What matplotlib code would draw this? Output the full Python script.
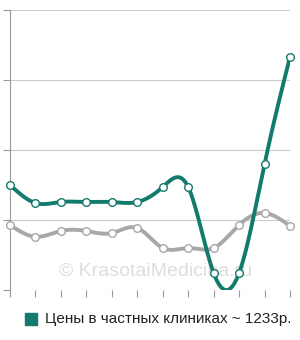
import numpy as np
import matplotlib
matplotlib.use('Agg')
import matplotlib.pyplot as plt

plt.rcParams['font.family'] = ['Liberation Sans', 'DejaVu Sans']

# prices by point
private = [1500, 1243, 1257, 1257, 1257, 1257, 1471, 1471, 243, 243, 1800, 3329]
public = [929, 761, 843, 843, 814, 886, 600, 600, 600, 929, 1100, 914]
legend_label = 'Цены в частных клиниках ~ 1233р.'
watermark = '© KrasotaiMedicina.ru'

teal = '#137a6e'
grey = '#a8a8a8'


def smooth(y, n=30):
    # natural cubic spline through the points, only for drawing
    y = np.asarray(y, dtype=float)
    k = len(y)
    A = np.zeros((k, k))
    b = np.zeros(k)
    A[0, 0] = A[-1, -1] = 1
    for i in range(1, k - 1):
        A[i, i - 1], A[i, i], A[i, i + 1] = 1, 4, 1
        b[i] = 6 * (y[i + 1] - 2 * y[i] + y[i - 1])
    m = np.linalg.solve(A, b)
    xs, ys = [], []
    s = np.linspace(0, 1, n, endpoint=False)
    for i in range(k - 1):
        v = (1 - s) * y[i] + s * y[i + 1] \
            + ((1 - s)**3 - (1 - s)) * m[i] / 6 + (s**3 - s) * m[i + 1] / 6
        xs.append(i + s)
        ys.append(v)
    xs.append([k - 1])
    ys.append([y[-1]])
    return np.concatenate(xs), np.concatenate(ys)


fig = plt.figure(figsize=(3, 3.4), dpi=100)
ax = fig.add_axes([10 / 300, 50 / 340, 280 / 300, 280 / 340])

x = np.arange(len(private))
for vals, c in [(public, grey), (private, teal)]:
    sx, sy = smooth(vals)
    ax.plot(sx, sy, color=c, lw=2.8, solid_capstyle='round', zorder=3)
    ax.plot(x, vals, 'o', ms=5.5, mfc='white', mec=c, mew=1.0, zorder=4,
            clip_on=False)

ax.set_xlim(0, len(private) - 1)
ax.set_ylim(0, 4000)
ax.set_yticks([0, 1000, 2000, 3000, 4000])
ax.set_xticks(x)
ax.set_yticklabels([])
ax.set_xticklabels([])
ax.grid(axis='y', color='#cccccc', lw=0.8)
ax.tick_params(axis='both', length=5, width=0.8, color='#999999')
for side in ['top', 'right', 'bottom']:
    ax.spines[side].set_visible(False)
ax.spines['left'].set_color('#999999')
ax.spines['left'].set_linewidth(0.8)

ax.text(0.52, 0.065, watermark, transform=ax.transAxes, ha='center', va='center',
        fontsize=14, color='#dedede', zorder=1)

fig.patches.append(plt.Rectangle((25 / 300, 15 / 340), 12 / 300, 12 / 340,
                                 transform=fig.transFigure, color=teal))
fig.text(45 / 300, 21 / 340, legend_label, fontsize=11, va='center',
         color='#222222')

fig.savefig('out.png', dpi=100)
